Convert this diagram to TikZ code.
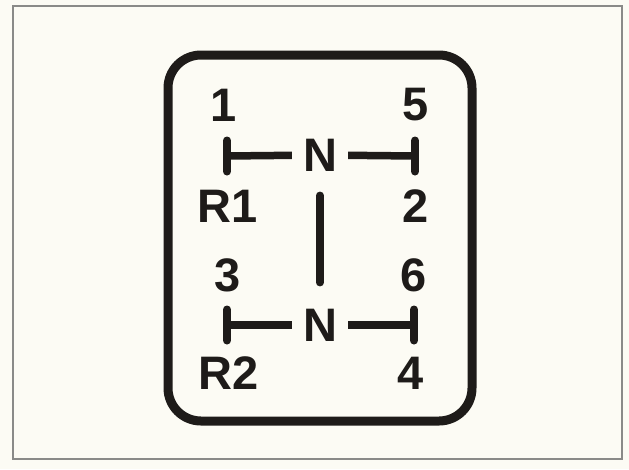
\documentclass[tikz,border=0pt]{standalone}
\usepackage{fontspec}
\setmainfont{Liberation Sans}
\usetikzlibrary{positioning}
\definecolor{paper}{HTML}{FCFBF4}
\definecolor{rim}{HTML}{8A8A88}
\definecolor{ink}{HTML}{1E1B19}

\begin{document}
\begin{tikzpicture}[
    x=1pt, y=-1pt,
    font=\fontsize{47}{50}\selectfont\bfseries,
    gear/.style={inner sep=0pt, text=ink},
    neutral/.style={inner ysep=0pt, inner xsep=11pt, text=ink},
    slot/.style={draw=ink, line width=7.5pt},
    stopbar/.style={draw=ink, line width=8pt, line cap=round},
  ]
  % ---- paper and plate
  \fill[paper] (0,0) rectangle (629,469);
  \draw[rim, line width=1.6pt] (13,6) rectangle (622,459);
  \draw[ink, line width=9pt, rounded corners=33pt] (168,55) rectangle (472,421);
  % ---- neutral positions
  \node[neutral] (n1) at (320,155) {N};
  \node[neutral] (n2) at (320,325) {N};
  % ---- gate ends
  \coordinate (e1) at (227,156);
  \coordinate (e2) at (415,156);
  \coordinate (e3) at (227,325);
  \coordinate (e4) at (414,325);
  % ---- gear numbers
  \node[gear] (g1) at (224,105) {1};
  \node[gear] (g5) at (416,105) {5};
  \node[gear] (gr1) at (228,206) {R1};
  \node[gear] (g2) at (416,206) {2};
  \node[gear] (g3) at (228,275) {3};
  \node[gear] (g6) at (414,275) {6};
  \node[gear] (gr2) at (229,373) {R2};
  \node[gear] (g4) at (411,373) {4};
  % ---- slots
  \draw[slot] (n1) -- (e1);
  \draw[slot] (n1) -- (e2);
  \draw[slot] (n2) -- (e3);
  \draw[slot] (n2) -- (e4);
  \draw[slot, line cap=round, shorten <=24pt, shorten >=26pt] (n1) -- (n2);
  \foreach \e in {e1,e2,e3,e4}
    \draw[stopbar] ([yshift=15.5pt]\e) -- ([yshift=-15.5pt]\e);
\end{tikzpicture}
\end{document}
